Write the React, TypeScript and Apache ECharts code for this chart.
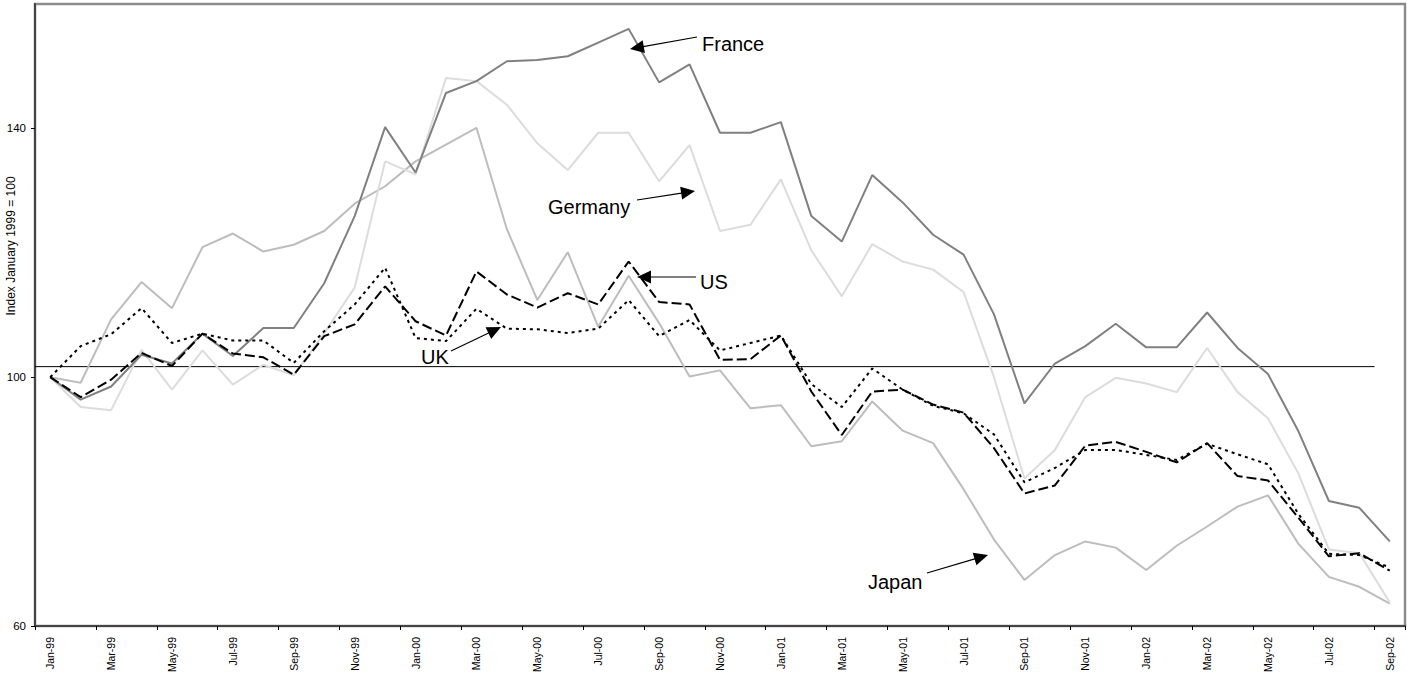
import React, { useEffect, useRef } from "react";
import * as echarts from "echarts";

const months = [
  "Jan-99", "Feb-99", "Mar-99", "Apr-99", "May-99", "Jun-99", "Jul-99", "Aug-99", "Sep-99", "Oct-99", "Nov-99", "Dec-99",
  "Jan-00", "Feb-00", "Mar-00", "Apr-00", "May-00", "Jun-00", "Jul-00", "Aug-00", "Sep-00", "Oct-00", "Nov-00", "Dec-00",
  "Jan-01", "Feb-01", "Mar-01", "Apr-01", "May-01", "Jun-01", "Jul-01", "Aug-01", "Sep-01", "Oct-01", "Nov-01", "Dec-01",
  "Jan-02", "Feb-02", "Mar-02", "Apr-02", "May-02", "Jun-02", "Jul-02", "Aug-02", "Sep-02",
];

const france = [100, 96.4, 98.5, 103.6, 102.2, 107.0, 103.4, 107.9, 107.9, 115.1, 125.9, 140.2, 132.9, 145.7, 147.6,
  150.8, 151.0, 151.6, 153.8, 156.0, 147.4, 150.3, 139.3, 139.3, 141.0, 125.9, 121.8, 132.5, 128.1, 122.9, 119.7,
  110.1, 95.8, 102.2, 105.0, 108.6, 104.8, 104.8, 110.4, 104.7, 100.5, 91.3, 80.1, 79.0, 73.6];

const germany = [100, 95.2, 94.7, 104.4, 98.0, 104.3, 98.8, 102.0, 100.3, 107.1, 114.4, 134.7, 132.6, 148.1, 147.6,
  143.8, 137.6, 133.3, 139.3, 139.3, 131.5, 137.3, 123.5, 124.5, 131.8, 120.4, 113.0, 121.4, 118.6, 117.3, 113.7,
  100.0, 83.7, 88.3, 96.8, 99.9, 99.0, 97.6, 104.7, 97.6, 93.4, 84.5, 72.3, 71.7, 63.8];

const japan = [100, 99.1, 109.3, 115.3, 111.1, 120.9, 123.1, 120.2, 121.3, 123.5, 127.9, 130.7, 134.7, 137.4, 140.1,
  123.8, 112.4, 120.1, 108.1, 116.3, 108.7, 100.1, 101.1, 95.0, 95.5, 88.9, 89.7, 96.1, 91.4, 89.4, 82.0,
  73.9, 67.4, 71.4, 73.6, 72.6, 69.0, 72.9, 76.0, 79.2, 81.0, 73.2, 67.9, 66.3, 63.6];

const us = [100, 96.8, 99.6, 103.9, 101.8, 107.0, 103.8, 103.2, 100.4, 106.6, 108.5, 114.6, 109.0, 106.7, 117.0,
  113.3, 111.2, 113.5, 111.7, 118.6, 112.1, 111.7, 102.8, 102.9, 106.7, 97.7, 90.7, 97.7, 98.0, 95.6, 94.3,
  88.6, 81.3, 82.6, 89.0, 89.6, 88.0, 86.3, 89.4, 84.1, 83.4, 77.4, 71.2, 71.7, 68.9];

const uk = [100, 105.0, 106.9, 111.1, 105.5, 107.0, 105.9, 105.9, 102.3, 107.4, 111.7, 117.6, 106.3, 105.8, 111.0,
  107.8, 107.7, 107.1, 107.8, 112.4, 106.6, 109.2, 104.3, 105.5, 106.7, 98.9, 95.2, 101.4, 98.0, 95.4, 94.2,
  90.8, 83.1, 85.4, 88.3, 88.3, 87.5, 86.7, 89.3, 87.6, 86.0, 78.0, 71.6, 71.4, 69.4];

const yTicks = [60, 100, 140];
const refLevel = 101.7;
const refLine = [[0, refLevel], [44, refLevel]];

const FONT = '"Liberation Sans", Arial, sans-serif';

function arrow(x1: number, y1: number, x2: number, y2: number) {
  const dx = x2 - x1, dy = y2 - y1;
  const len = Math.hypot(dx, dy);
  const ux = dx / len, uy = dy / len;
  const hl = 14, hw = 6.5;
  const bx = x2 - ux * hl, by = y2 - uy * hl;
  return [
    { type: "line", shape: { x1, y1, x2: bx + ux * 2, y2: by + uy * 2 }, style: { stroke: "#000", lineWidth: 1.2 }, z: 100 },
    {
      type: "polygon",
      shape: { points: [[x2, y2], [bx - uy * hw, by + ux * hw], [bx + uy * hw, by - ux * hw]] },
      style: { fill: "#000" },
      z: 100,
    },
  ];
}

function label(text: string, x: number, y: number) {
  return {
    type: "text",
    x,
    y,
    z: 100,
    style: { text, fill: "#000", fontSize: 20, fontFamily: FONT, align: "left", verticalAlign: "middle" },
  };
}

export default function App() {
  const ref = useRef<HTMLDivElement>(null);
  useEffect(() => {
    if (!ref.current) return;
    const chart = echarts.init(ref.current, undefined, { renderer: "svg" });
    const lineSeries = (name: string, data: number[], color: string, type: any) => ({
      name,
      type: "line",
      data,
      showSymbol: false,
      symbol: "none",
      lineStyle: { color, width: 2, type },
      itemStyle: { color },
      z: 3,
    });
    chart.setOption({
      animation: false,
      backgroundColor: "#fff",
      textStyle: { fontFamily: FONT },
      grid: {
        left: 35,
        right: 2,
        top: 4,
        bottom: 52,
        show: true,
        borderColor: "#8c8c8c",
        borderWidth: 2.5,
        outerBoundsMode: "none",
      },
      xAxis: [
        {
          type: "category",
          data: months,
          boundaryGap: true,
          axisLine: { show: true, lineStyle: { color: "#444", width: 2 } },
          axisTick: { show: true, interval: 1, length: 4, lineStyle: { color: "#000", width: 1 } },
          axisLabel: { interval: 1, rotate: 90, fontSize: 10.5, color: "#000", margin: 11, fontFamily: FONT },
          splitLine: { show: false },
        },
        { type: "value", min: 0, max: 45, show: false },
      ],
      yAxis: {
        type: "value",
        min: 60,
        max: 160,
        interval: 20,
        axisLine: { show: true, lineStyle: { color: "#444", width: 2 } },
        axisTick: { show: true, length: 4, customValues: yTicks, lineStyle: { color: "#000" } },
        axisLabel: {
          customValues: yTicks,
          fontSize: 11.5,
          color: "#000",
          margin: 9,
          fontFamily: FONT,
        },
        splitLine: { show: false },
      },
      series: [
        {
          name: "ref",
          type: "line",
          xAxisIndex: 1,
          data: refLine,
          showSymbol: false,
          symbol: "none",
          lineStyle: { color: "#000", width: 1 },
          z: 2,
        },
        lineSeries("Japan", japan, "#bdbdbd", "solid"),
        lineSeries("Germany", germany, "#dcdcdc", "solid"),
        lineSeries("France", france, "#808080", "solid"),
        lineSeries("UK", uk, "#000", [3, 4]),
        lineSeries("US", us, "#000", [10, 4]),
      ],
      graphic: [
        {
          type: "text",
          x: 11,
          y: 246,
          rotation: Math.PI / 2,
          style: {
            text: "Index January 1999 = 100",
            fill: "#000",
            fontSize: 12,
            fontFamily: FONT,
            align: "center",
            verticalAlign: "middle",
          },
        },
        label("France", 702, 44),
        ...arrow(697, 37, 630, 49),
        label("Germany", 548, 207),
        ...arrow(637, 200, 695, 191),
        label("US", 700, 282),
        ...arrow(696, 277, 637, 277),
        label("UK", 421, 357),
        ...arrow(451, 351, 501, 327),
        label("Japan", 868, 582),
        ...arrow(927, 573, 988, 555),
      ],
    });
    return () => chart.dispose();
  }, []);
  return <div ref={ref} style={{ position: "absolute", left: 0, top: 0, width: 1407, height: 678 }} />;
}
